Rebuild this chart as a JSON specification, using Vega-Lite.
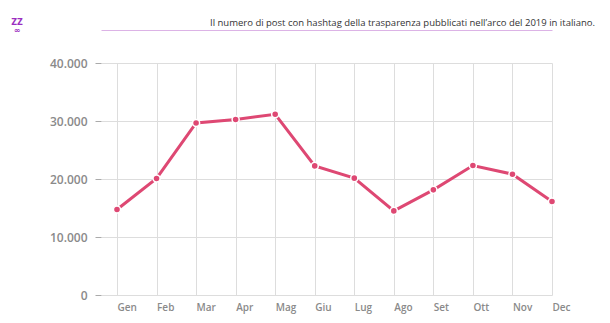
{
  "$schema": "https://vega.github.io/schema/vega-lite/v6.json",
  "autosize": "none",
  "width": 451,
  "height": 232,
  "padding": {"left": 101, "top": 63, "right": 58, "bottom": 28},
  "background": "white",
  "title": {
    "text": "Il numero di post con hashtag della trasparenza pubblicati nell’arco del 2019 in italiano.",
    "anchor": "end",
    "dx": 25,
    "dy": 13,
    "offset": 4,
    "font": "Open Sans",
    "fontSize": 9.5,
    "fontWeight": "normal",
    "color": "#333333"
  },
  "data": {
    "values": [
      {"mese": "Gen", "post": 14750},
      {"mese": "Feb", "post": 20100},
      {"mese": "Mar", "post": 29670},
      {"mese": "Apr", "post": 30250},
      {"mese": "Mag", "post": 31160},
      {"mese": "Giu", "post": 22260},
      {"mese": "Lug", "post": 20150},
      {"mese": "Ago", "post": 14500},
      {"mese": "Set", "post": 18130},
      {"mese": "Ott", "post": 22330},
      {"mese": "Nov", "post": 20830},
      {"mese": "Dec", "post": 16130}
    ]
  },
  "encoding": {
    "y": {
      "field": "post",
      "type": "quantitative",
      "scale": {"domain": [0, 40000]},
      "axis": {
        "title": null,
        "values": [0, 10000, 20000, 30000, 40000],
        "labelExpr": "replace(format(datum.value, ','), ',', '.')",
        "labelFont": "Open Sans",
        "labelFontSize": 12,
        "labelFontWeight": 600,
        "labelColor": "#8a8a8a",
        "labelPadding": 8,
        "tickSize": 6,
        "tickColor": "#aaaaaa",
        "domain": false,
        "gridColor": "#dddddd"
      }
    }
  },
  "layer": [
    {
      "encoding": {
        "x": {
          "field": "mese",
          "type": "ordinal",
          "sort": null,
          "scale": {"type": "point", "padding": 0.2023, "align": 1},
          "axis": {
            "title": null,
            "grid": true,
            "gridColor": "#dddddd",
            "labelAngle": 0,
            "labelAlign": "left",
            "labelFont": "Open Sans",
            "labelFontSize": 10,
            "labelFontWeight": 600,
            "labelColor": "#8a8a8a",
            "labelPadding": 7,
            "ticks": false,
            "domain": false
          }
        }
      },
      "layer": [
        {"mark": {"type": "line", "color": "#de4873", "strokeWidth": 3}},
        {"mark": {"type": "point", "filled": true, "color": "#de4873", "size": 50, "stroke": "white", "strokeWidth": 1.5, "opacity": 1}}
      ]
    },
    {
      "mark": {"type": "point", "opacity": 0},
      "encoding": {
        "x": {
          "field": "mese",
          "type": "ordinal",
          "sort": null,
          "axis": {
            "orient": "top",
            "offset": 33,
            "labels": false,
            "ticks": false,
            "grid": false,
            "domain": true,
            "domainColor": "#dcb3e6",
            "domainWidth": 1,
            "title": ["ZZ", "∞"],
            "titleX": -84.5,
            "titleY": -8,
            "titleAlign": "center",
            "titleBaseline": "middle",
            "titleFont": "DejaVu Sans",
            "titleFontSize": 8,
            "titleFontWeight": "bold",
            "titleColor": "#9b2fc0",
            "titleLineHeight": 8.5,
            "titleAngle": 0
          }
        }
      }
    }
  ],
  "resolve": {"axis": {"x": "independent"}},
  "config": {"view": {"stroke": null}}
}
